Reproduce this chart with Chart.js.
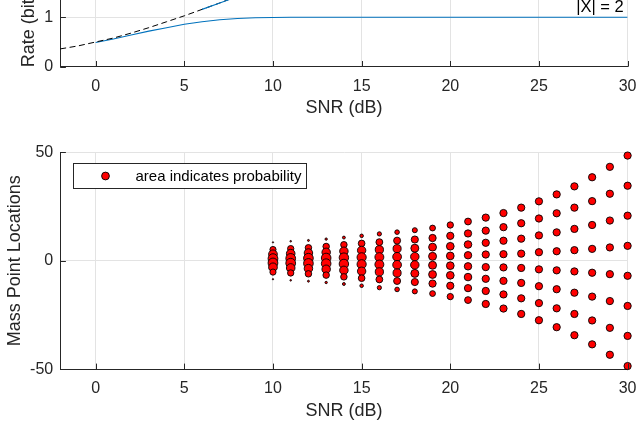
<!DOCTYPE html>
<html><head><meta charset="utf-8">
<script src="https://cdn.jsdelivr.net/npm/chart.js@4.4.1/dist/chart.umd.min.js"></script>
<style>
html,body{margin:0;padding:0;background:#fff;overflow:hidden;width:637px;height:423px;}
#wrap{position:relative;width:637px;height:423px;overflow:hidden;background:#fff;}
canvas{position:absolute;left:0;}
#topc{top:-180px;}
#botc{top:125px;}
</style></head><body>
<div id="wrap"><canvas id="topc" width="637" height="300"></canvas><canvas id="botc" width="637" height="298"></canvas></div>
<script>
// ---------- data ----------
const xTicks = [0, 5, 10, 15, 20, 25, 30];
const rateTicks = [0, 1, 2, 3];
const massTicks = [-50, 0, 50];

const shannonSNR  = [-2, -1, 0, 1, 2, 3, 4, 5, 6, 7, 8, 9, 10];
const shannonRate = [0.36, 0.42, 0.50, 0.58, 0.68, 0.79, 0.91, 1.03, 1.16, 1.29, 1.43, 1.57, 1.73];
const binarySNR   = [0, 1, 2, 3, 4, 5, 6, 7, 8, 9, 10, 11, 12, 15, 20, 25, 30];
const binaryRate  = [0.49, 0.56, 0.64, 0.72, 0.79, 0.86, 0.91, 0.95, 0.975, 0.99, 0.997, 1, 1, 1, 1, 1, 1];
const quadSNR     = [6, 7, 8, 9];
const quadRate    = [1.16, 1.29, 1.42, 1.55];
const curveLabels = ['|X| = 2'];
const curveLabelX = [27.1];
const curveLabelY = [1.2];

const massSNR = [10, 11, 12, 13, 14, 15, 16, 17, 18, 19, 20, 21, 22, 23, 24, 25, 26, 27, 28, 29, 30];
const massLoc = [
  [8.5, 5.2, 3.0, 1.0, -1.0, -3.0, -5.2, -8.5],
  [9.0, 5.6, 3.3, 1.1, -1.1, -3.3, -5.6, -9.0],
  [9.4, 6.0, 3.6, 1.2, -1.2, -3.6, -6.0, -9.4],
  [10.0, 6.6, 3.9, 1.3, -1.3, -3.9, -6.6, -10.0],
  [10.7, 7.4, 4.4, 1.45, -1.45, -4.4, -7.4, -10.7],
  [11.5, 8.0, 4.8, 1.6, -1.6, -4.8, -8.0, -11.5],
  [12.4, 8.6, 5.1, 1.7, -1.7, -5.1, -8.6, -12.4],
  [13.2, 9.3, 5.6, 1.85, -1.85, -5.6, -9.3, -13.2],
  [14.1, 9.8, 5.8, 1.9, -1.9, -5.8, -9.8, -14.1],
  [15.1, 10.5, 6.3, 2.05, -2.05, -6.3, -10.5, -15.1],
  [16.5, 11.5, 6.7, 2.25, -2.25, -6.7, -11.5, -16.5],
  [18.1, 12.6, 7.5, 2.55, -2.55, -7.5, -12.6, -18.1],
  [19.9, 13.9, 8.3, 2.9, -2.9, -8.3, -13.9, -19.9],
  [22.0, 15.5, 9.25, 3.05, -3.05, -9.25, -15.5, -22.0],
  [24.5, 17.3, 10.2, 3.3, -3.3, -10.2, -17.3, -24.5],
  [27.4, 19.5, 11.7, 3.95, -3.95, -11.7, -19.5, -27.4],
  [30.6, 21.9, 13.1, 4.4, -4.4, -13.1, -21.9, -30.6],
  [34.3, 24.5, 14.7, 4.9, -4.9, -14.7, -24.5, -34.3],
  [38.5, 27.5, 16.5, 5.5, -5.5, -16.5, -27.5, -38.5],
  [43.3, 30.9, 18.55, 6.15, -6.15, -18.55, -30.9, -43.3],
  [48.5, 34.6, 20.8, 6.9, -6.9, -20.8, -34.6, -48.5]
];
const massProb = [
  [0.004, 0.09, 0.18, 0.226, 0.226, 0.18, 0.09, 0.004],
  [0.006, 0.095, 0.175, 0.224, 0.224, 0.175, 0.095, 0.006],
  [0.009, 0.10, 0.17, 0.221, 0.221, 0.17, 0.10, 0.009],
  [0.013, 0.10, 0.17, 0.217, 0.217, 0.17, 0.10, 0.013],
  [0.02, 0.10, 0.17, 0.21, 0.21, 0.17, 0.10, 0.02],
  [0.03, 0.105, 0.165, 0.20, 0.20, 0.165, 0.105, 0.03],
  [0.042, 0.11, 0.16, 0.188, 0.188, 0.16, 0.11, 0.042],
  [0.05, 0.115, 0.155, 0.18, 0.18, 0.155, 0.115, 0.05],
  [0.06, 0.12, 0.15, 0.17, 0.17, 0.15, 0.12, 0.06],
  [0.08, 0.125, 0.145, 0.15, 0.15, 0.145, 0.125, 0.08],
  [0.095, 0.125, 0.14, 0.14, 0.14, 0.14, 0.125, 0.095],
  [0.11, 0.125, 0.135, 0.13, 0.13, 0.135, 0.125, 0.11],
  [0.125, 0.125, 0.125, 0.125, 0.125, 0.125, 0.125, 0.125],
  [0.125, 0.125, 0.125, 0.125, 0.125, 0.125, 0.125, 0.125],
  [0.125, 0.125, 0.125, 0.125, 0.125, 0.125, 0.125, 0.125],
  [0.125, 0.125, 0.125, 0.125, 0.125, 0.125, 0.125, 0.125],
  [0.125, 0.125, 0.125, 0.125, 0.125, 0.125, 0.125, 0.125],
  [0.125, 0.125, 0.125, 0.125, 0.125, 0.125, 0.125, 0.125],
  [0.125, 0.125, 0.125, 0.125, 0.125, 0.125, 0.125, 0.125],
  [0.125, 0.125, 0.125, 0.125, 0.125, 0.125, 0.125, 0.125],
  [0.125, 0.125, 0.125, 0.125, 0.125, 0.125, 0.125, 0.125]
];
const massLegend = 'area indicates probability';

// ---------- styling ----------
const FONT = "'Liberation Sans', Arial, Helvetica, sans-serif";
const axisColor = '#262626';
const gridColor = '#e3e3e3';
const blue = '#0072BD';
const tickFont = {family: FONT, size: 16};
const titleFont = {family: FONT, size: 18};
const RADIUS_K = 10.3;   // bubble radius per sqrt(probability)
const TICK_LEN = 5.7;
const RIGHT_GAP = 9.4;

Chart.defaults.font.family = FONT;

const pairs = (xs, ys) => xs.map((x, i) => ({x: x, y: ys[i]}));
const setTicks = list => s => { s.ticks = list.map(v => ({value: v})); };
const forceW = w => s => { s.width = w; s.paddingTop = 0; s.paddingBottom = 0; };
const forceH = h => s => { s.height = h; s.paddingLeft = 0; s.paddingRight = RIGHT_GAP; };

const inwardTicks = {
  id: 'inwardTicks',
  afterDatasetsDraw(chart) {
    const {ctx, chartArea: a, scales: {x, y}} = chart;
    ctx.save();
    ctx.strokeStyle = axisColor; ctx.lineWidth = 1;
    ctx.beginPath();
    x.ticks.forEach(t => { const px = Math.round(x.getPixelForValue(t.value)) + 0.5; ctx.moveTo(px, a.bottom); ctx.lineTo(px, a.bottom - TICK_LEN); });
    y.ticks.forEach(t => { const py = Math.round(y.getPixelForValue(t.value)) + 0.5; ctx.moveTo(a.left, py); ctx.lineTo(a.left + TICK_LEN, py); });
    ctx.stroke();
    ctx.restore();
  }
};

const curveText = {
  id: 'curveText',
  afterDraw(chart) {
    const {ctx, scales: {x, y}} = chart;
    ctx.save();
    ctx.fillStyle = '#000';
    ctx.font = '16.5px ' + FONT;
    ctx.textAlign = 'left'; ctx.textBaseline = 'middle';
    curveLabels.forEach((t, i) => ctx.fillText(t, x.getPixelForValue(curveLabelX[i]), y.getPixelForValue(curveLabelY[i])));
    ctx.restore();
  }
};

const boxLegend = {
  id: 'boxLegend',
  afterDraw(chart) {
    const {ctx, chartArea: a} = chart;
    const ds = chart.data.datasets[0];
    const bx = Math.round(a.left + 12.8) + 0.5, by = Math.round(a.top + 10.7) + 0.5, bw = 233, bh = 25;
    ctx.save();
    ctx.fillStyle = '#fff';
    ctx.fillRect(bx, by, bw, bh);
    ctx.strokeStyle = axisColor; ctx.lineWidth = 1;
    ctx.strokeRect(bx, by, bw, bh);
    ctx.beginPath();
    ctx.arc(bx + 32, by + bh / 2, 3.9, 0, Math.PI * 2);
    ctx.fillStyle = ds.backgroundColor; ctx.fill();
    ctx.strokeStyle = ds.borderColor; ctx.lineWidth = ds.borderWidth; ctx.stroke();
    ctx.fillStyle = '#000';
    ctx.font = '15px ' + FONT;
    ctx.textAlign = 'left'; ctx.textBaseline = 'middle';
    ctx.fillText(ds.label, bx + 62, by + bh / 2 + 0.5);
    ctx.restore();
  }
};

function xAxis(h) {
  return {
    type: 'linear', position: 'bottom', min: -2, max: 30,
    afterBuildTicks: setTicks(xTicks), afterFit: forceH(h),
    grid: {color: gridColor, lineWidth: 1, drawTicks: false},
    border: {color: axisColor, width: 1},
    ticks: {padding: 10, color: axisColor, font: tickFont, maxRotation: 0, autoSkip: false},
    title: {display: true, text: 'SNR (dB)', color: axisColor, font: titleFont, padding: {top: 0, bottom: 1.4}}
  };
}

// ---------- top chart (rate) ----------
new Chart(document.getElementById('topc'), {
  type: 'scatter',
  data: {
    datasets: [
      {label: '|X| = 4', data: pairs(quadSNR, quadRate), showLine: true, borderColor: blue, borderWidth: 1.1, pointRadius: 0, fill: false},
      {label: 'Shannon', data: pairs(shannonSNR, shannonRate), showLine: true, borderColor: '#000', borderWidth: 1, borderDash: [6, 3.5], pointRadius: 0, fill: false},
      {label: '|X| = 2', data: pairs(binarySNR, binaryRate), showLine: true, borderColor: blue, borderWidth: 1.1, pointRadius: 0, fill: false}
    ]
  },
  options: {
    responsive: false, animation: false, devicePixelRatio: 1, events: [],
    layout: {padding: {left: 14, top: 62.9, right: 0, bottom: 0}},
    plugins: {legend: {display: false}, tooltip: {enabled: false}},
    scales: {
      x: xAxis(53.3),
      y: {
        type: 'linear', min: 0, max: 3.72,
        afterBuildTicks: setTicks(rateTicks), afterFit: forceW(46.2),
        grid: {color: gridColor, lineWidth: 1, drawTicks: false},
        border: {color: axisColor, width: 1},
        ticks: {padding: 7, color: axisColor, font: tickFont},
        title: {display: true, text: 'Rate (bits/channel use)', color: axisColor, font: titleFont, padding: {top: 4.4, bottom: 0}}
      }
    }
  },
  plugins: [inwardTicks, curveText]
});

// ---------- bottom chart (mass points) ----------
const bubbles = [];
massSNR.forEach((s, i) => massLoc[i].forEach((loc, j) => bubbles.push({x: s, y: loc, r: RADIUS_K * Math.sqrt(massProb[i][j])})));

new Chart(document.getElementById('botc'), {
  type: 'bubble',
  data: {
    datasets: [{label: massLegend, data: bubbles, backgroundColor: '#ff0000', borderColor: '#000', borderWidth: 0.9, clip: false}]
  },
  options: {
    responsive: false, animation: false, devicePixelRatio: 1, events: [],
    layout: {padding: {left: 0, top: 27.3, right: 0, bottom: 0}},
    plugins: {legend: {display: false}, tooltip: {enabled: false}},
    scales: {
      x: xAxis(53.7),
      y: {
        type: 'linear', min: -50, max: 50,
        afterBuildTicks: setTicks(massTicks), afterFit: forceW(60.2),
        grid: {color: gridColor, lineWidth: 1, drawTicks: false},
        border: {color: axisColor, width: 1},
        ticks: {padding: 7, color: axisColor, font: tickFont},
        title: {display: true, text: 'Mass Point Locations', color: axisColor, font: titleFont, padding: {top: 4.4, bottom: 0}}
      }
    }
  },
  plugins: [inwardTicks, boxLegend]
});
</script>
</body></html>
